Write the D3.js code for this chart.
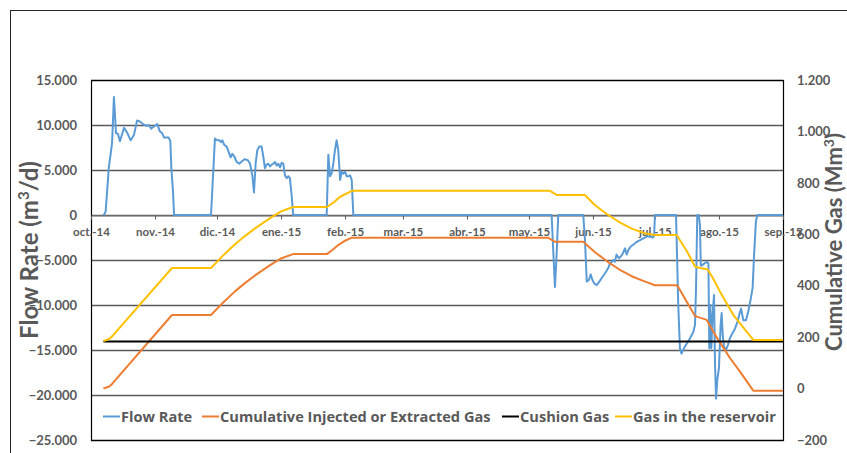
<!DOCTYPE html>
<html>
<head>
<meta charset="utf-8">
<script src="https://cdn.jsdelivr.net/npm/d3@7"></script>
<style>
body { margin: 0; background: #fff; }
svg { display: block; }
text { font-family: Lato, "Open Sans", sans-serif; font-weight: bold; fill: #595959; }
</style>
</head>
<body>
<svg id="chart" width="847" height="453"></svg>
<script>
// ---------- DATA (day offsets counted from 1 Oct 2014) ----------
const monthLabels = ["oct.-14","nov.-14","dic.-14","ene.-15","feb.-15","mar.-15","abr.-15","may.-15","jun.-15","jul.-15","ago.-15","sep.-15"];
const leftTicks = [15000, 10000, 5000, 0, -5000, -10000, -15000, -20000, -25000];
const rightTicks = [1200, 1000, 800, 600, 400, 200, 0, -200];

// Flow Rate (m3/d) : [day, value]
const flowRate = [
  [6,0],[6.5,100],[7.1,400],[8.6,5200],[10.2,8000],[11.1,13100],[12.1,9100],[13.1,9000],[14.0,8200],[16.0,9700],
  [17.6,9100],[19.2,8300],[20.8,8900],[22.3,10500],[23.6,10400],[25.2,10100],[26.8,9900],[27.9,10000],[29.2,9600],
  [30.8,9900],[32.1,10100],[33.3,9300],[34.4,9100],[35.4,8600],[36.5,8600],[37.6,8600],[38.4,8200],[38.9,5200],
  [39.7,2600],[40.2,0],
  [58.1,0],[60.0,8500],[61.1,8300],[62.1,8300],[62.9,8100],[63.6,8300],[64.5,7800],[65.7,7600],[66.8,6900],
  [67.6,6400],[68.4,6800],[69.4,6500],[70.5,5900],[71.8,5700],[73.2,6000],[74.5,6200],[75.9,6100],[77.0,5700],
  [78.1,4400],[78.9,2500],[79.7,5700],[80.5,7200],[81.5,7600],[82.6,7600],[83.4,6500],[84.2,5200],[85.0,5600],
  [85.8,5700],[86.7,5400],[87.5,5600],[88.3,5700],[89.1,5900],[89.9,5500],[90.7,5700],[91.5,5300],[92.3,5800],
  [93.1,5700],[93.9,4400],[94.8,4100],[95.6,4300],[96.3,4100],[97.2,2000],[97.9,0],
  [114.1,0],[114.9,6700],[115.7,4300],[116.5,4600],[117.3,5700],[118.1,7200],[118.9,8300],[119.7,7200],[120.6,3900],
  [121.4,4800],[122.1,4600],[123.0,4800],[123.8,4300],[124.6,4300],[125.4,4400],[126.2,3900],[127.0,0],
  [223.0,0],[223.5,-2600],[224.6,-8000],[225.4,-4400],[226.2,0],
  [238.3,0],[239.1,-2600],[240.0,-7400],[241.1,-7200],[241.9,-6600],[242.7,-7200],[243.6,-7600],[244.8,-7800],
  [246.1,-7400],[247.2,-7000],[248.8,-6500],[250.4,-5900],[251.2,-5400],[252.1,-5200],[252.8,-5000],[253.6,-5200],
  [254.4,-4400],[255.6,-4800],[256.5,-4600],[257.4,-4300],[258.5,-3700],[259.3,-4400],[260.1,-3900],[261.3,-3500],
  [262.5,-3300],[264.1,-3000],[265.8,-2800],[267.4,-2600],[269.0,-2400],[270.3,-2400],[271.9,-2500],[272.6,-2300],
  [273.0,0],
  [283.2,0],[283.5,-2600],[284.3,-10000],[285.1,-14800],[285.9,-15400],[286.7,-15000],[287.5,-14600],[288.4,-14300],
  [290.0,-13700],[291.6,-13000],[292.4,-12200],[292.9,-8100],[293.5,0],[294.2,0],[294.8,-1100],[295.2,-5600],
  [295.7,-5600],[296.8,-5400],[298.1,-5200],[298.9,-5400],[299.3,-14800],[299.8,-10000],[300.3,-14800],[300.9,-11100],
  [301.6,-8900],[302.1,-16700],[302.6,-20400],[303.2,-18300],[304.0,-17000],[304.8,-12200],[305.3,-10900],[305.8,-13300],
  [306.4,-14600],[307.4,-15000],[308.4,-14400],[309.3,-13700],[310.6,-13100],[311.8,-12600],[312.9,-11900],[313.8,-11100],
  [314.7,-10400],[315.8,-11700],[317.1,-11700],[318.2,-10700],[319.4,-9300],[320.3,-8100],[321.0,-4400],[321.9,-700],
  [322.6,0],[335,0]
];

// Cumulative Injected or Extracted Gas : [day, value]
const cumulativeGas = [
  [6,0],[8.6,7],[10.2,18],[39.2,286],[58.1,286],[64,335],[69.7,378],[74.5,410],[79.4,440],[86.7,480],[92,506],
  [97.8,523],[114.2,523],[117,540],[119.7,558],[123,575],[126.3,587],[221.2,587],[224.6,571],[238.3,571],[244,530],
  [250,494],[256,462],[262,436],[268,417],[273,402],[283.4,402],[284.3,395],[288.4,338],[292.4,282],[294,278],
  [298.1,267],[302.9,199],[309.4,118],[314.2,66],[320.6,-8],[335,-8]
];

// Cushion Gas : [day, value]
const cushionGas = [[6,183],[335,183]];

// Gas in the reservoir : [day, value]
const reservoirGas = [
  [6,185],[8.6,192],[10.2,203],[39.2,469],[58.1,469],[64,518],[69.7,561],[74.5,593],[79.4,623],[86.7,663],[92,689],
  [97.8,706],[114.2,706],[117.3,723],[120.6,746],[126.3,769],[222.2,769],[225.4,753],[239.1,753],[244,713],[250,677],
  [256,646],[262,621],[268,604],[273,597],[283.5,597],[288.4,535],[292.4,475],[294,471],[298.5,463],[300.9,432],
  [304.5,377],[311,286],[314.2,254],[320.6,189],[335,189]
];

const seriesNames = ["Flow Rate","Cumulative Injected or Extracted Gas","Cushion Gas","Gas in the reservoir"];
const seriesColors = ["#5B9BD5","#ED7D31","#000000","#FFC000"];

// ---------- CHART ----------
const svg = d3.select("#chart");
const start = new Date(2014, 9, 1);
const end = new Date(2015, 8, 1);
const toDate = d => new Date(start.getTime() + d * 86400000);

const L = 91, R = 783, T = 80, B = 440;
const x = d3.scaleTime().domain([start, end]).range([L, R]);
const yL = d3.scaleLinear().domain([-25000, 15000]).range([B, T]);
const yR = d3.scaleLinear().domain([-200, 1200]).range([B, T]);

// outer chart frame (extends beyond the visible area)
svg.append("rect").attr("x", 10.5).attr("y", 10.5).attr("width", 900).attr("height", 500)
  .attr("fill", "none").attr("stroke", "#262626").attr("stroke-width", 1);

// gridlines
svg.append("g").selectAll("line").data(leftTicks).join("line")
  .attr("x1", L).attr("x2", R)
  .attr("y1", d => Math.round(yL(d)) + 0.5).attr("y2", d => Math.round(yL(d)) + 0.5)
  .attr("stroke", "#595959").attr("stroke-width", 1.3);

// plot border
svg.append("rect").attr("x", L + 0.5).attr("y", T + 0.5).attr("width", R - L).attr("height", B - T)
  .attr("fill", "none").attr("stroke", "#000").attr("stroke-width", 1.2);

// x axis at zero
const months = d3.timeMonth.range(start, d3.timeDay.offset(end, 1));
const xAxis = d3.axisBottom(x).tickValues(months).tickSize(4)
  .tickFormat((d, i) => monthLabels[i]);
const gx = svg.append("g").attr("transform", `translate(0,${Math.round(yL(0)) + 0.5})`).call(xAxis);
gx.select(".domain").attr("stroke", "#7f7f7f");
gx.selectAll(".tick line").attr("stroke", "#595959");
gx.selectAll(".tick text").attr("dy", "1.15em").style("font-size", "11.5px")
  .style("font-family", "Lato, sans-serif").style("font-weight", "bold").attr("fill", "#595959");

// left axis labels
const gyL = svg.append("g").attr("transform", `translate(${L},0)`)
  .call(d3.axisLeft(yL).tickValues(leftTicks).tickSize(0).tickPadding(14)
    .tickFormat(d => d === 0 ? "0" : d3.format(",")(d).replace(/,/g, ".")));
gyL.select(".domain").remove();
gyL.selectAll("text").style("font-size", "13px").style("font-family", "Lato, sans-serif")
  .style("font-weight", "bold").attr("fill", "#595959");

// right axis labels
const gyR = svg.append("g").attr("transform", `translate(${R},0)`)
  .call(d3.axisRight(yR).tickValues(rightTicks).tickSize(0).tickPadding(14)
    .tickFormat(d => d3.format(",")(d).replace(/,/g, ".")));
gyR.select(".domain").remove();
gyR.selectAll("text").style("font-size", "13px").style("font-family", "Lato, sans-serif")
  .style("font-weight", "bold").attr("fill", "#595959");

// axis titles
const tL = svg.append("text").attr("transform", "translate(38,250) rotate(-90)")
  .attr("text-anchor", "middle").style("font-size", "24px");
tL.append("tspan").text("Flow Rate (m");
tL.append("tspan").attr("baseline-shift", "super").style("font-size", "15px").text("3");
tL.append("tspan").text("/d)");

const tR = svg.append("text").attr("transform", "translate(842,242) rotate(-90)")
  .attr("text-anchor", "middle").style("font-size", "22px");
tR.append("tspan").text("Cumulative Gas (Mm");
tR.append("tspan").attr("baseline-shift", "super").style("font-size", "14px").text("3");
tR.append("tspan").text(")");

// lines
const lineL = d3.line().x(d => x(toDate(d[0]))).y(d => yL(d[1]));
const lineR = d3.line().x(d => x(toDate(d[0]))).y(d => yR(d[1]));

svg.append("path").datum(flowRate).attr("d", lineL).attr("fill", "none")
  .attr("stroke", seriesColors[0]).attr("stroke-width", 2).attr("stroke-linejoin", "round");
svg.append("path").datum(cumulativeGas).attr("d", lineR).attr("fill", "none")
  .attr("stroke", seriesColors[1]).attr("stroke-width", 2).attr("stroke-linejoin", "round");
svg.append("path").datum(cushionGas).attr("d", lineR).attr("fill", "none")
  .attr("stroke", seriesColors[2]).attr("stroke-width", 2);
svg.append("path").datum(reservoirGas).attr("d", lineR).attr("fill", "none")
  .attr("stroke", seriesColors[3]).attr("stroke-width", 2).attr("stroke-linejoin", "round");

// legend
const legendX = [103, 202, 502, 615];
const lg = svg.append("g");
seriesNames.forEach((name, i) => {
  lg.append("line").attr("x1", legendX[i]).attr("x2", legendX[i] + 17)
    .attr("y1", 416.5).attr("y2", 416.5).attr("stroke", seriesColors[i]).attr("stroke-width", 2);
  lg.append("text").attr("x", legendX[i] + 18).attr("y", 421.5)
    .style("font-family", "'Open Sans', sans-serif").style("font-size", "14.6px").text(name);
});
</script>
</body>
</html>
